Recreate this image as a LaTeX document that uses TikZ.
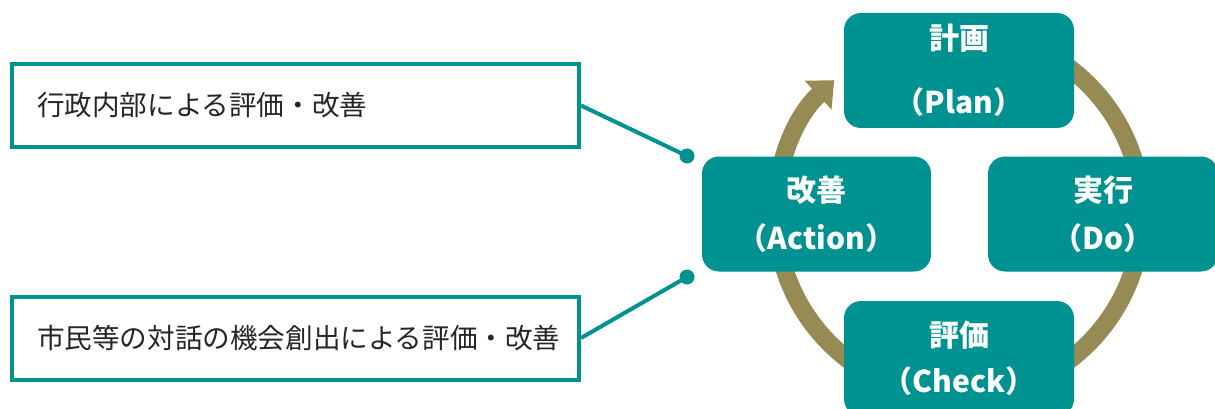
\documentclass[tikz,border=0pt]{standalone}
\usepackage{fontspec}
\newfontfamily\jp{Noto Sans CJK JP}
\usetikzlibrary{arrows.meta}
\definecolor{tealc}{HTML}{009290}
\definecolor{olivec}{HTML}{968A55}
\definecolor{txt}{HTML}{262626}
\tikzset{
  cyclebox/.style={rectangle, rounded corners=17pt, fill=tealc, draw=none,
    minimum width=230pt, minimum height=115pt, inner sep=0pt, align=center,
    text=white, font=\jp\bfseries\fontsize{30}{48}\selectfont},
  sidebox/.style={rectangle, draw=tealc, line width=4pt, fill=white,
    minimum width=567pt, minimum height=83pt, inner xsep=0pt, inner ysep=0pt,
    text width=567pt, align=left, text=txt, font=\jp\fontsize{27.6}{32}\selectfont,
    execute at begin node={\hspace*{25pt}}},
  link/.style={draw=tealc, line width=4pt},
  dot/.style={circle, fill=tealc, minimum size=15pt, inner sep=0pt},
  ringline/.style={draw=olivec, line width=18pt, -{Triangle[width=38pt,length=22pt]}}
}
\begin{document}
\begin{tikzpicture}[x=1pt,y=-1pt]
\useasboundingbox (0,0) rectangle (1215,409);
\coordinate (ring) at (959,214);
% ring with arrow
\draw[ringline] ([shift={(ring)}] 100:183pt) arc[start angle=100, end angle=-227, radius=183pt];
% cycle boxes
\node[cyclebox] (plan) at (959,70.5) {計画\\[16pt]（Plan）};
\node[cyclebox, minimum width=229pt] (act) at (816.5,214) {改善\\（Action）};
\node[cyclebox] (do) at (1103,214) {実行\\（Do）};
\node[cyclebox] (check) at (959,358.5) {評価\\[-2pt]（Check）};
% side boxes
\node[sidebox] (l1) at (295.5,105.5) {行政内部による評価・改善};
\node[sidebox] (l2) at (295.5,338) {市民等の対話の機会創出による評価・改善};
\node[dot] (d1) at (687,156) {};
\node[dot] (d2) at (687,277) {};
\draw[link] (l1.east) -- (d1.center);
\draw[link] (l2.east) -- (d2.center);
\end{tikzpicture}
\end{document}
